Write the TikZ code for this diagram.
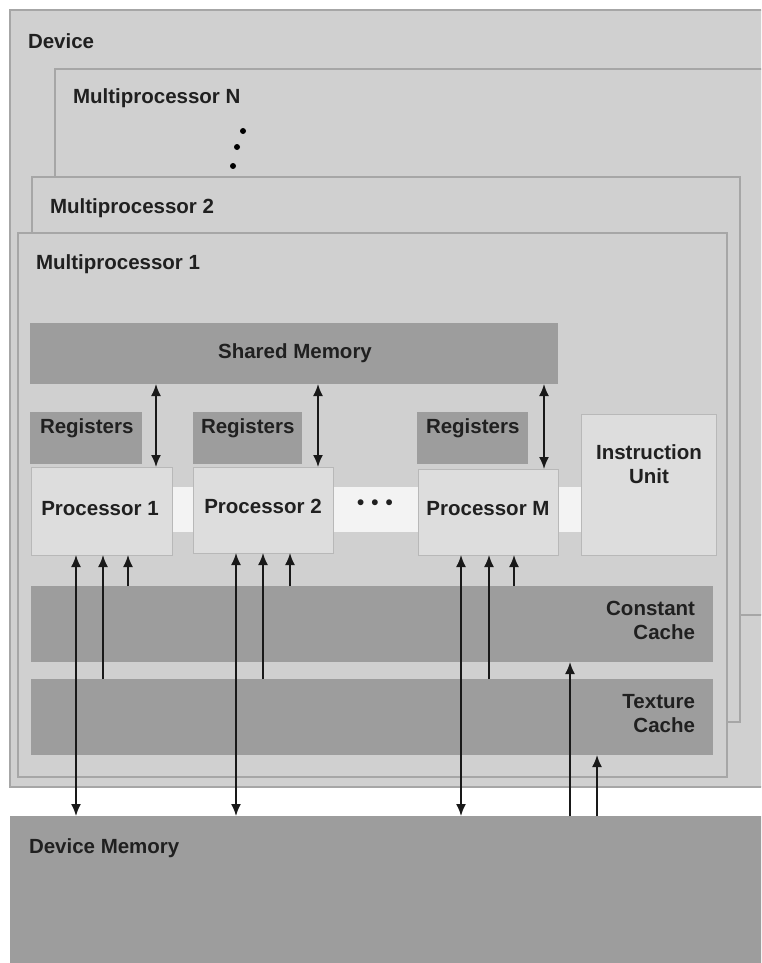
\documentclass[tikz,border=0pt]{standalone}
\usepackage{fontspec}
\setmainfont{Liberation Sans}
\usetikzlibrary{arrows.meta}
\definecolor{bgc}{HTML}{D0D0D0}
\definecolor{edgec}{HTML}{A6A6A6}
\definecolor{darkc}{HTML}{9D9D9D}
\definecolor{procc}{HTML}{DDDDDD}
\definecolor{pedgec}{HTML}{B8B8B8}
\definecolor{bandc}{HTML}{F3F3F3}
\definecolor{txtc}{HTML}{202020}
\begin{document}
\begin{tikzpicture}[x=1pt,y=-1pt,
  every node/.style={inner sep=0pt, outer sep=0pt},
  cont/.style={draw=edgec, line width=1.3pt, fill=bgc, anchor=north west, rectangle},
  dbox/.style={fill=darkc, draw=none, anchor=north west, rectangle},
  pbox/.style={fill=procc, draw=pedgec, line width=1pt, anchor=north west, rectangle},
  lbl/.style={font=\fontsize{20.5}{24}\selectfont\bfseries, text=txtc},
  tip/.tip={Latex[length=12pt,width=10pt]},
  arr/.style={line width=1.7pt, draw=black!90, -tip},
  darr/.style={line width=1.7pt, draw=black!90, tip-tip}]
\clip (0,0) rectangle (761,963);
\fill[white] (0,0) rectangle (761,963);
% containers
\node[cont, minimum width=770pt, minimum height=777pt] (dev) at (10,10) {};
\node[cont, minimum width=720pt, minimum height=546pt] (mpn) at (55,69) {};
\node[cont, minimum width=708pt, minimum height=545pt] (mp2) at (32,177) {};
\node[cont, minimum width=709pt, minimum height=544pt] (mp1) at (18,233) {};
\node[lbl, anchor=base west] (tdev) at (28,49) {Device};
\node[lbl, anchor=base west] (tmpn) at (73,103) {Multiprocessor N};
\node[lbl, anchor=base west] (tmp2) at (50,213) {Multiprocessor 2};
\node[lbl, anchor=base west] (tmp1) at (36,269) {Multiprocessor 1};
\fill[black] (243,131) circle (3pt) (237,147) circle (3pt) (233,166) circle (3pt);
% shared memory, registers
\node[dbox, minimum width=528pt, minimum height=61pt] (sm) at (30,323) {};
\node[lbl] (tsm) at (295,353) {Shared Memory};
\node[dbox, minimum width=112pt, minimum height=52pt] (r1) at (30,412) {};
\node[dbox, minimum width=109pt, minimum height=52pt] (r2) at (193,412) {};
\node[dbox, minimum width=111pt, minimum height=52pt] (rm) at (417,412) {};
\node[lbl, anchor=base west] (tr1) at (40,433) {Registers};
\node[lbl, anchor=base west] (tr2) at (201,433) {Registers};
\node[lbl, anchor=base west] (trm) at (426,433) {Registers};
% band and processors
\node[fill=bandc, anchor=north west, minimum width=420pt, minimum height=45pt] (band) at (165,487) {};
\node[pbox, minimum width=141pt, minimum height=88pt] (p1) at (31,467) {};
\node[pbox, minimum width=140pt, minimum height=86pt] (p2) at (193,467) {};
\node[pbox, minimum width=140pt, minimum height=86pt] (pm) at (418,469) {};
\node[pbox, minimum width=135pt, minimum height=141pt] (iu) at (581,414) {};
\node[lbl, anchor=base] (tp1) at (100,515) {Processor 1};
\node[lbl, anchor=base] (tp2) at (263,513) {Processor 2};
\node[lbl, anchor=base] (tpm) at (488,515) {Processor M};
\node[lbl, anchor=base] (tdots) at (375,509) {\textbullet\hspace{7pt}\textbullet\hspace{7pt}\textbullet};
\node[lbl, anchor=base] (tiu1) at (649,459) {Instruction};
\node[lbl, anchor=base] (tiu2) at (649,483) {Unit};
% caches
\node[dbox, minimum width=682pt, minimum height=76pt] (cc) at (31,586) {};
\node[dbox, minimum width=682pt, minimum height=76pt] (tc) at (31,679) {};
\node[lbl, anchor=base east] (tcc1) at (695,615) {Constant};
\node[lbl, anchor=base east] (tcc2) at (695,639) {Cache};
\node[lbl, anchor=base east] (ttc1) at (695,708) {Texture};
\node[lbl, anchor=base east] (ttc2) at (695,732) {Cache};
% device memory
\node[dbox, minimum width=770pt, minimum height=160pt] (dm) at (10,816) {};
\node[lbl, anchor=base west] (tdm) at (29,853) {Device Memory};
% x positions
\foreach \n/\x in {a/156,b/318,c/544,d/76,e/103,f/128,g/236,h/263,i/290,j/461,k/489,l/514,m/570,n/597}
  \coordinate (x\n) at (\x,0);
% connectors
\draw[darr] (sm.south -| xa) -- (p1.north -| xa);
\draw[darr] (sm.south -| xb) -- (p2.north -| xb);
\draw[darr] (sm.south -| xc) -- (pm.north -| xc);
\draw[darr] (dm.north -| xd) -- (p1.south -| xd);
\draw[arr] (tc.north -| xe) -- (p1.south -| xe);
\draw[arr] (cc.north -| xf) -- (p1.south -| xf);
\draw[darr] (dm.north -| xg) -- (p2.south -| xg);
\draw[arr] (tc.north -| xh) -- (p2.south -| xh);
\draw[arr] (cc.north -| xi) -- (p2.south -| xi);
\draw[darr] (dm.north -| xj) -- (pm.south -| xj);
\draw[arr] (tc.north -| xk) -- (pm.south -| xk);
\draw[arr] (cc.north -| xl) -- (pm.south -| xl);
\draw[arr] (dm.north -| xm) -- (cc.south -| xm);
\draw[arr] (dm.north -| xn) -- (tc.south -| xn);
\end{tikzpicture}
\end{document}
